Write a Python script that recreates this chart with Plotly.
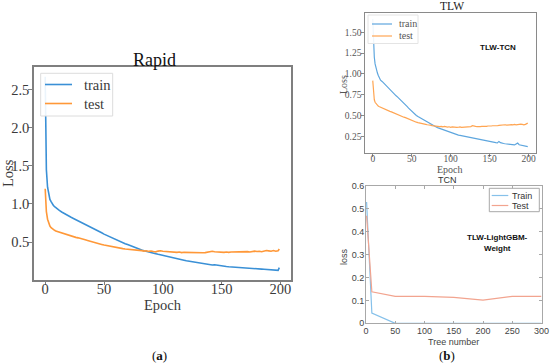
import plotly.graph_objects as go

W, H = 550, 364

# ---------------- data ----------------
epochs = list(range(0, 11)) + list(range(12, 199, 2)) + [199]

rapid_train = [2.67, 1.45, 1.22, 1.12, 1.06, 1.03, 1.00, 0.98, 0.965, 0.95, 0.935,
               0.915, 0.895, 0.875, 0.858, 0.84, 0.826, 0.81, 0.795, 0.782, 0.765,
               0.752, 0.735, 0.72, 0.705, 0.688, 0.672, 0.655, 0.64, 0.622, 0.605,
               0.59, 0.578, 0.56, 0.548, 0.532, 0.52, 0.505, 0.492, 0.48, 0.468,
               0.455, 0.445, 0.432, 0.42, 0.41, 0.398, 0.388, 0.378, 0.37, 0.362,
               0.355, 0.348, 0.34, 0.332, 0.325, 0.318, 0.312, 0.305, 0.298, 0.292,
               0.285, 0.278, 0.27, 0.262, 0.255, 0.25, 0.243, 0.236, 0.23, 0.224,
               0.218, 0.213, 0.208, 0.205, 0.202, 0.2, 0.203, 0.197, 0.192, 0.188,
               0.184, 0.18, 0.177, 0.174, 0.171, 0.168, 0.166, 0.163, 0.161, 0.159,
               0.158, 0.156, 0.153, 0.151, 0.149, 0.147, 0.146, 0.144, 0.143, 0.141,
               0.139, 0.138, 0.135, 0.13,
               0.165]

rapid_test = [1.20, 0.90, 0.80, 0.75, 0.71, 0.69, 0.675, 0.665, 0.655, 0.645, 0.64,
              0.63, 0.62, 0.607, 0.597, 0.585, 0.578, 0.57, 0.562, 0.556, 0.55,
              0.545, 0.53, 0.522, 0.515, 0.505, 0.498, 0.49, 0.482, 0.47, 0.462,
              0.455, 0.45, 0.442, 0.436, 0.43, 0.425, 0.42, 0.415, 0.41, 0.408,
              0.404, 0.40, 0.398, 0.393, 0.39, 0.388, 0.382, 0.386, 0.378, 0.383,
              0.376, 0.372, 0.382, 0.386, 0.38, 0.377, 0.382, 0.376, 0.371, 0.372,
              0.366, 0.37, 0.362, 0.366, 0.365, 0.36, 0.362, 0.356, 0.361, 0.356,
              0.355, 0.36, 0.362, 0.37, 0.376, 0.38, 0.374, 0.37, 0.366, 0.37,
              0.366, 0.371, 0.365, 0.37, 0.372, 0.366, 0.37, 0.376, 0.37, 0.38,
              0.375, 0.37, 0.376, 0.381, 0.376, 0.38, 0.374, 0.385, 0.39, 0.385,
              0.38, 0.39, 0.38, 0.386,
              0.41]

tlw_train = [1.66, 1.33, 1.20, 1.12, 1.07, 1.04, 1.01, 0.985, 0.96, 0.94, 0.925,
             0.91, 0.89, 0.868, 0.848, 0.828, 0.805, 0.788, 0.77, 0.752, 0.737,
             0.722, 0.705, 0.688, 0.67, 0.652, 0.632, 0.61, 0.59, 0.57, 0.55,
             0.532, 0.515, 0.502, 0.488, 0.477, 0.466, 0.452, 0.442, 0.432, 0.421,
             0.41, 0.40, 0.39, 0.38, 0.37, 0.36, 0.352, 0.345, 0.338, 0.33,
             0.322, 0.315, 0.306, 0.30, 0.296, 0.29, 0.285, 0.278, 0.272, 0.266,
             0.262, 0.258, 0.252, 0.25, 0.245, 0.24, 0.242, 0.232, 0.236, 0.226,
             0.221, 0.218, 0.212, 0.21, 0.205, 0.2, 0.198, 0.195, 0.19, 0.188,
             0.185, 0.182, 0.178, 0.175, 0.172, 0.19, 0.176, 0.168, 0.165, 0.162,
             0.16, 0.158, 0.155, 0.152, 0.15, 0.148, 0.16, 0.17, 0.15, 0.145,
             0.14, 0.137, 0.133, 0.13,
             0.128]

tlw_test = [0.92, 0.75, 0.69, 0.66, 0.645, 0.635, 0.625, 0.615, 0.61, 0.605, 0.60,
            0.595, 0.588, 0.577, 0.566, 0.56, 0.551, 0.545, 0.536, 0.53, 0.521,
            0.515, 0.506, 0.50, 0.49, 0.481, 0.475, 0.466, 0.46, 0.451, 0.442,
            0.436, 0.43, 0.421, 0.416, 0.41, 0.405, 0.40, 0.401, 0.395, 0.39,
            0.391, 0.385, 0.38, 0.376, 0.375, 0.371, 0.37, 0.368, 0.371, 0.365,
            0.37, 0.365, 0.362, 0.366, 0.36, 0.365, 0.36, 0.362, 0.358, 0.36,
            0.365, 0.36, 0.362, 0.366, 0.36, 0.365, 0.37, 0.368, 0.38, 0.372,
            0.37, 0.368, 0.365, 0.368, 0.37, 0.368, 0.372, 0.37, 0.375, 0.372,
            0.375, 0.378, 0.376, 0.38, 0.378, 0.382, 0.385, 0.38, 0.385, 0.39,
            0.385, 0.39, 0.388, 0.392, 0.39, 0.395, 0.39, 0.395, 0.392, 0.398,
            0.395, 0.39, 0.395, 0.40,
            0.41]

trees = [1, 10, 50, 100, 150, 200, 250, 300]
tcn_train = [0.53, 0.045, 0.0, 0.0, 0.0, 0.0, 0.0, 0.0]
tcn_test = [0.47, 0.138, 0.118, 0.118, 0.113, 0.101, 0.118, 0.118]

epoch_ticks = [0, 50, 100, 150, 200]
rapid_yticks = [0.5, 1.0, 1.5, 2.0, 2.5]
tlw_yticks = [0.25, 0.5, 0.75, 1.0, 1.25, 1.5]
tlw_ylabels = ["0.25", "0.50", "0.75", "1.00", "1.25", "1.50"]
tree_ticks = [0, 50, 100, 150, 200, 250, 300]
tcn_yticks = [0, 0.1, 0.2, 0.3, 0.4, 0.5, 0.6]
tcn_ylabels = ["0", "0.1", "0.2", "0.3", "0.4", "0.5", "0.6"]

# ---------------- helpers ----------------
def px(x):
    return x / W

def py(y):
    return 1 - y / H

def mpl_range(vals_a, vals_b):
    lo = min(min(vals_a), min(vals_b))
    hi = max(max(vals_a), max(vals_b))
    pad = 0.05 * (hi - lo)
    return [lo - pad, hi + pad]

SERIF = "Liberation Serif"
SANS = "Liberation Sans"
BLUE = "#3a90d6"
ORANGE = "#ff9838"
BLUE2 = "#5ea6de"
ORANGE2 = "#ffa552"
MBLUE = "#86c1ea"
MRED = "#f2a48f"

fig = go.Figure()

# Panel (a)
fig.add_trace(go.Scatter(x=epochs, y=rapid_train, mode="lines", name="train",
                         line=dict(color=BLUE, width=1.6), xaxis="x", yaxis="y"))
fig.add_trace(go.Scatter(x=epochs, y=rapid_test, mode="lines", name="test",
                         line=dict(color=ORANGE, width=1.6), xaxis="x", yaxis="y"))
# Panel TLW
fig.add_trace(go.Scatter(x=epochs, y=tlw_train, mode="lines", name="train",
                         line=dict(color=BLUE2, width=1.2), xaxis="x2", yaxis="y2"))
fig.add_trace(go.Scatter(x=epochs, y=tlw_test, mode="lines", name="test",
                         line=dict(color=ORANGE2, width=1.2), xaxis="x2", yaxis="y2"))
# Panel TCN
fig.add_trace(go.Scatter(x=trees, y=tcn_train, mode="lines", name="Train",
                         line=dict(color=MBLUE, width=1.2), xaxis="x3", yaxis="y3"))
fig.add_trace(go.Scatter(x=trees, y=tcn_test, mode="lines", name="Test",
                         line=dict(color=MRED, width=1.2), xaxis="x3", yaxis="y3"))

ep_range = [-0.05 * 199, 199 * 1.05]

mpl_axis = dict(showgrid=False, zeroline=False, showline=True, mirror=True,
                linecolor="#7f7f7f", linewidth=1.5, ticks="outside",
                tickcolor="#7f7f7f", tickwidth=1, automargin=False)

fig.update_layout(
    width=W, height=H, autosize=False,
    margin=dict(l=0, r=0, t=0, b=0, pad=0),
    paper_bgcolor="white", plot_bgcolor="white",
    showlegend=False,
    xaxis=dict(mpl_axis, domain=[px(33.5), px(291)], range=ep_range,
               tickvals=epoch_ticks, ticklen=3.5, ticklabelstandoff=-9,
               tickfont=dict(family=SERIF, size=14.5, color="#3a3a3a"),
               anchor="y"),
    yaxis=dict(mpl_axis, domain=[py(280), py(67)],
               range=mpl_range(rapid_train, rapid_test),
               tickvals=rapid_yticks, ticktext=["0.5", "1.0", "1.5", "2.0", "2.5"],
               ticklen=3.5, ticklabelstandoff=-4,
               tickfont=dict(family=SERIF, size=14.5, color="#3a3a3a"),
               anchor="x"),
    xaxis2=dict(mpl_axis, domain=[px(365), px(535.5)], range=ep_range,
                tickvals=epoch_ticks, ticklen=2.5, linewidth=1.3,
                ticklabelstandoff=-6,
                linecolor="#8a8a8a", tickcolor="#8a8a8a",
                tickfont=dict(family=SERIF, size=9.5, color="#555555"),
                anchor="y2"),
    yaxis2=dict(mpl_axis, domain=[py(153), py(12.5)],
                range=mpl_range(tlw_train, tlw_test),
                tickvals=tlw_yticks, ticktext=tlw_ylabels, ticklen=2.5,
                ticklabelstandoff=-2,
                linewidth=1.3, linecolor="#8a8a8a", tickcolor="#8a8a8a",
                tickfont=dict(family=SERIF, size=9.5, color="#555555"),
                anchor="x2"),
    xaxis3=dict(showgrid=False, zeroline=False, showline=True, mirror="ticks",
                linecolor="#a8a8a8", linewidth=1, ticks="inside", ticklen=2.5,
                tickcolor="#a8a8a8", domain=[px(366), px(541.5)], range=[0, 300],
                tickvals=tree_ticks, automargin=False, ticklabelstandoff=-1,
                tickfont=dict(family=SANS, size=9, color="#444444"),
                anchor="y3"),
    yaxis3=dict(showgrid=False, zeroline=False, showline=True, mirror="ticks",
                linecolor="#a8a8a8", linewidth=1, ticks="inside", ticklen=2.5,
                tickcolor="#a8a8a8", domain=[py(323.3), py(186)], range=[0, 0.6],
                tickvals=tcn_yticks, ticktext=tcn_ylabels, automargin=False,
                ticklabelstandoff=-1,
                tickfont=dict(family=SANS, size=9, color="#444444"),
                anchor="x3"),
)

ann = []
shapes = []

def text(x, y, s, size, family, color="#222222", angle=0, bold=False, anchor="center"):
    ann.append(dict(x=px(x), y=py(y), xref="paper", yref="paper",
                    text=f"<b>{s}</b>" if bold else s, showarrow=False,
                    xanchor=anchor, yanchor="middle", textangle=angle,
                    font=dict(family=family, size=size, color=color)))

def legend_box(x0, y0, x1, y1, border, width=1):
    shapes.append(dict(type="rect", xref="paper", yref="paper",
                       x0=px(x0), x1=px(x1), y0=py(y1), y1=py(y0),
                       line=dict(color=border, width=width),
                       fillcolor="rgba(255,255,255,0.9)", layer="above"))

def legend_line(x0, x1, y, color, width):
    shapes.append(dict(type="line", xref="paper", yref="paper",
                       x0=px(x0), x1=px(x1), y0=py(y), y1=py(y),
                       line=dict(color=color, width=width), layer="above"))

# Panel (a) texts + legend
text(154, 60, "Rapid", 18, SERIF, "#111111")
text(162.5, 305, "Epoch", 14.5, SERIF, "#3a3a3a")
text(8, 173, "Loss", 14.5, SERIF, "#3a3a3a", angle=-90)
legend_box(40.7, 73.3, 112.7, 116, "#dcdcdc")
legend_line(45, 72, 84.5, BLUE, 1.6)
legend_line(45, 72, 103.5, ORANGE, 1.6)
text(82, 84.5, "train", 14.5, SERIF, "#3a3a3a", anchor="left")
text(82, 103.5, "test", 14.5, SERIF, "#3a3a3a", anchor="left")

# Panel TLW
text(452, 6, "TLW", 11.5, SERIF, "#222222")
text(450, 169, "Epoch", 10, SERIF, "#555555")
text(343, 85, "Loss", 10, SERIF, "#555555", angle=-90)
text(498, 48, "TLW-TCN", 8, SANS, "#111111", bold=True)
legend_box(368, 15, 418, 43.5, "#e4e4e4")
legend_line(372, 392, 24, BLUE2, 1.2)
legend_line(372, 392, 36, ORANGE2, 1.2)
text(396.5, 24, "train", 10, SERIF, "#555555", anchor="left")
text(396.5, 36, "test", 10, SERIF, "#555555", anchor="left")

# Panel TCN
text(447, 179.5, "TCN", 9, SANS, "#333333")
text(453.5, 342, "Tree number", 9, SANS, "#444444")
text(344, 257, "loss", 9, SANS, "#444444", angle=-90)
text(497.5, 237, "TLW-LightGBM-", 8, SANS, "#111111", bold=True)
text(497, 248, "Weight", 8, SANS, "#111111", bold=True)
legend_box(489.3, 188.3, 539.3, 211.7, "#a8a8a8")
legend_line(491.7, 508.3, 195.5, MBLUE, 1.2)
legend_line(491.7, 508.3, 205.5, MRED, 1.2)
text(510, 195.5, "Train", 9, SANS, "#333333", anchor="left")
text(510, 205.5, "Test", 9, SANS, "#333333", anchor="left")

text(159.5, 355, "(<b>a</b>)", 13, SERIF, "#111111")
text(446.5, 355, "(<b>b</b>)", 13, SERIF, "#111111")

fig.update_layout(annotations=ann, shapes=shapes)

fig.write_html("out.html",
               config={"displayModeBar": False},
               post_script="document.body.style.margin='0';document.body.style.padding='0';document.body.style.overflow='hidden';")
